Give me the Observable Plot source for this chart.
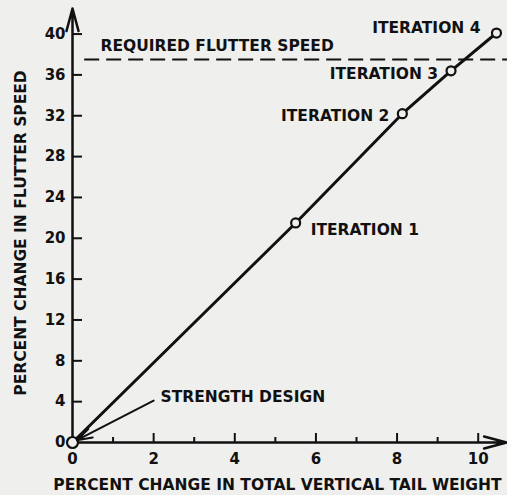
<!DOCTYPE html>
<html>
<head>
<meta charset="utf-8">
<script src="https://cdn.jsdelivr.net/npm/d3@7"></script>
<script src="https://cdn.jsdelivr.net/npm/@observablehq/plot@0.6"></script>
<style>
  html, body { margin: 0; padding: 0; background: #efefed; }
  #chart svg { display: block; }
</style>
</head>
<body>
<div id="chart"></div>
<script>
// Data
const weightChange = [0, 5.5, 8.13, 9.33, 10.45];        // % change in total vertical tail weight
const speedChange  = [0, 21.5, 32.2, 36.4, 40.1];         // % change in flutter speed
const pointLabels  = ["STRENGTH DESIGN", "ITERATION 1", "ITERATION 2", "ITERATION 3", "ITERATION 4"];
const requiredFlutterSpeed = 37.5;
const xTickLabels = [0, 2, 4, 6, 8, 10];
const xMinorTicks = [1, 3, 5, 7, 9];
const yTickLabels = [0, 4, 8, 12, 16, 20, 24, 28, 32, 36, 40];
const xTitle = "PERCENT CHANGE IN TOTAL VERTICAL TAIL WEIGHT";
const yTitle = "PERCENT CHANGE IN FLUTTER SPEED";
const requiredLabel = "REQUIRED FLUTTER SPEED";
const strengthArrowTail = {x: 2.0, y: 4.1};

const points = weightChange.map((w, i) => ({x: w, y: speedChange[i], label: pointLabels[i]}));
const ink = "#111";
const bg = "#efefed";
const font = "DejaVu Sans";

const lbl = (i, opts) => Plot.text([points[i]], {x: "x", y: "y", text: "label", fill: ink, fontSize: 15.5, fontWeight: "bold", ...opts});

const chart = Plot.plot({
  width: 507,
  height: 495,
  marginLeft: 72,
  marginRight: 9,
  marginTop: 7,
  marginBottom: 53,
  x: {domain: [0, 10.5]},
  y: {domain: [0, 42.6]},
  style: {background: bg, fontFamily: font, fontWeight: "bold", color: ink, overflow: "visible"},
  marks: [
    // axis tick labels
    Plot.axisX(xTickLabels, {tickSize: 0, tickPadding: 11, label: null, fontSize: 15, fontWeight: "bold", fill: ink}),
    Plot.axisY(yTickLabels, {tickSize: 0, tickPadding: 7, label: null, fontSize: 15, fontWeight: "bold", fill: ink}),
    // inner tick marks
    Plot.ruleY(yTickLabels.filter(d => d > 0), {y: d => d, x1: 0, x2: 0, insetRight: -10, stroke: ink, strokeWidth: 2}),
    Plot.ruleX(xTickLabels.filter(d => d > 0), {x: d => d, y1: 0, y2: 0, insetTop: -9, stroke: ink, strokeWidth: 2}),
    Plot.ruleX(xMinorTicks, {x: d => d, y1: 0, y2: 0, insetTop: -5, stroke: ink, strokeWidth: 2}),
    // axes with arrows
    Plot.arrow([0], {x1: 0, y1: 0, x2: 0, y2: 42.5, stroke: ink, strokeWidth: 2.5, headLength: 14, headAngle: 30}),
    Plot.arrow([0], {x1: 0, y1: 0, x2: 10.7, y2: 0, stroke: ink, strokeWidth: 2.5, headLength: 14, headAngle: 30}),
    // required flutter speed
    Plot.ruleY([requiredFlutterSpeed], {y: d => d, x1: 0.3, x2: 10.75, stroke: ink, strokeWidth: 2, strokeDasharray: "15,7"}),
    Plot.text([requiredLabel], {x: 0, y: requiredFlutterSpeed, text: d => d, textAnchor: "start", dx: 28, dy: -14, fill: ink, fontSize: 15.5, fontWeight: "bold"}),
    // design line and iterations
    Plot.line(points, {x: "x", y: "y", stroke: ink, strokeWidth: 3}),
    Plot.dot(points.slice(1), {x: "x", y: "y", r: 4.5, fill: bg, stroke: ink, strokeWidth: 2.2}),
    Plot.dot(points.slice(0, 1), {x: "x", y: "y", r: 5.5, fill: bg, stroke: ink, strokeWidth: 2.2}),
    // strength design arrow
    Plot.arrow([strengthArrowTail], {x1: "x", y1: "y", x2: () => points[0].x, y2: () => points[0].y, insetEnd: 5, stroke: ink, strokeWidth: 2, headLength: 12, headAngle: 35}),
    lbl(0, {textAnchor: "start", dx: 88, dy: -45}),
    lbl(1, {textAnchor: "start", dx: 15, dy: 7}),
    lbl(2, {textAnchor: "end", dx: -13, dy: 2}),
    lbl(3, {textAnchor: "end", dx: -13, dy: 3}),
    lbl(4, {textAnchor: "end", dx: -16, dy: -5}),
    // axis titles
    Plot.text([yTitle], {frameAnchor: "left", text: d => d, textAnchor: "middle", lineAnchor: "middle", rotate: -90, dx: -51, dy: 8, fill: ink, fontSize: 15.5, fontWeight: "bold"}),
    Plot.text([xTitle], {frameAnchor: "bottom", text: d => d, textAnchor: "middle", lineAnchor: "middle", dx: -8, dy: 43, fill: ink, fontSize: 15.5, fontWeight: "bold"})
  ]
});
document.getElementById("chart").appendChild(chart);
</script>
</body>
</html>
